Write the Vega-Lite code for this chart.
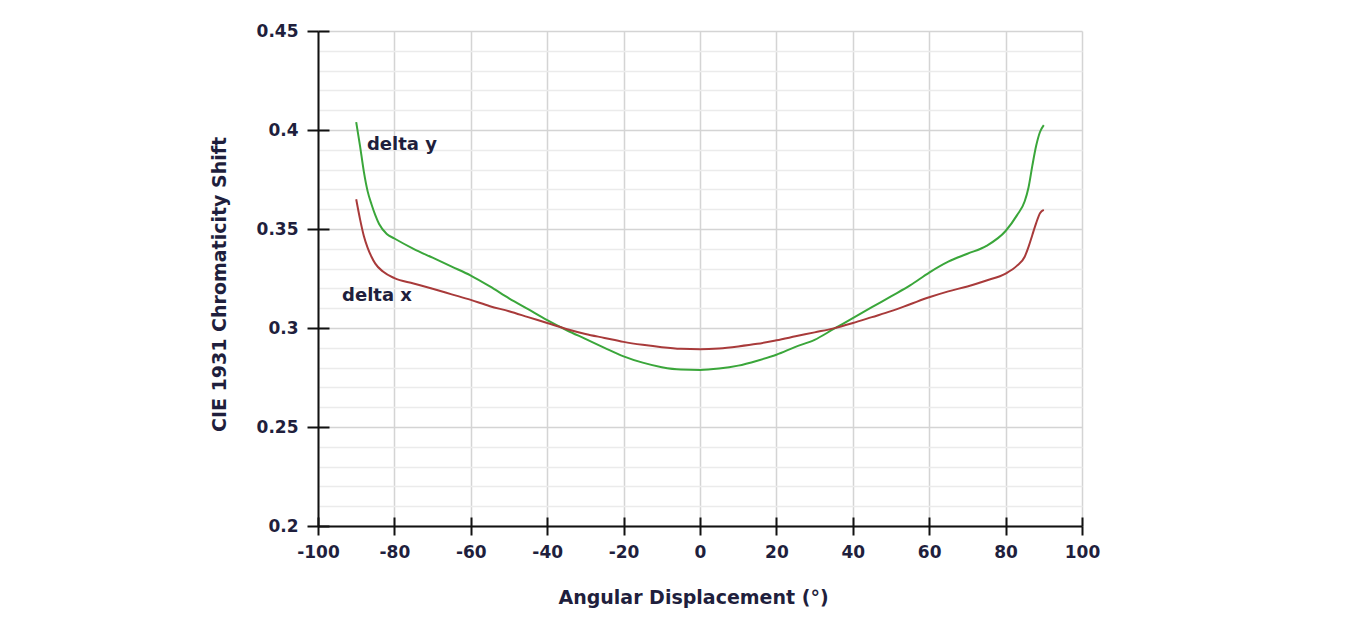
{
  "$schema": "https://vega.github.io/schema/vega-lite/v6.json",
  "width": 764,
  "height": 495,
  "autosize": {"type": "none"},
  "padding": {"left": 318, "top": 31, "right": 263, "bottom": 97},
  "background": "white",
  "config": {
    "view": {"stroke": null},
    "font": "DejaVu Sans",
    "axis": {
      "labelFont": "DejaVu Sans",
      "labelFontWeight": "bold",
      "labelFontSize": 17,
      "labelColor": "#1f1f3d",
      "titleFont": "DejaVu Sans",
      "titleFontWeight": "bold",
      "titleFontSize": 19,
      "titleColor": "#1f1f3d",
      "domainColor": "#111111",
      "domainWidth": 2,
      "tickColor": "#111111",
      "tickWidth": 2
    }
  },
  "datasets": {
    "curves": [
      {"angle": -90, "value": 0.404, "series": "delta y"},
      {"angle": -89, "value": 0.392, "series": "delta y"},
      {"angle": -88, "value": 0.379, "series": "delta y"},
      {"angle": -87, "value": 0.369, "series": "delta y"},
      {"angle": -86, "value": 0.3625, "series": "delta y"},
      {"angle": -85, "value": 0.357, "series": "delta y"},
      {"angle": -84, "value": 0.3525, "series": "delta y"},
      {"angle": -82, "value": 0.3475, "series": "delta y"},
      {"angle": -80, "value": 0.3452, "series": "delta y"},
      {"angle": -75, "value": 0.340, "series": "delta y"},
      {"angle": -70, "value": 0.3355, "series": "delta y"},
      {"angle": -65, "value": 0.331, "series": "delta y"},
      {"angle": -60, "value": 0.3265, "series": "delta y"},
      {"angle": -55, "value": 0.321, "series": "delta y"},
      {"angle": -50, "value": 0.315, "series": "delta y"},
      {"angle": -45, "value": 0.3095, "series": "delta y"},
      {"angle": -40, "value": 0.304, "series": "delta y"},
      {"angle": -35, "value": 0.299, "series": "delta y"},
      {"angle": -30, "value": 0.2945, "series": "delta y"},
      {"angle": -25, "value": 0.290, "series": "delta y"},
      {"angle": -20, "value": 0.2857, "series": "delta y"},
      {"angle": -15, "value": 0.2825, "series": "delta y"},
      {"angle": -10, "value": 0.2802, "series": "delta y"},
      {"angle": -5, "value": 0.279, "series": "delta y"},
      {"angle": 0, "value": 0.2788, "series": "delta y"},
      {"angle": 5, "value": 0.2795, "series": "delta y"},
      {"angle": 10, "value": 0.281, "series": "delta y"},
      {"angle": 15, "value": 0.2835, "series": "delta y"},
      {"angle": 20, "value": 0.2865, "series": "delta y"},
      {"angle": 25, "value": 0.2905, "series": "delta y"},
      {"angle": 30, "value": 0.294, "series": "delta y"},
      {"angle": 35, "value": 0.2995, "series": "delta y"},
      {"angle": 40, "value": 0.305, "series": "delta y"},
      {"angle": 45, "value": 0.3105, "series": "delta y"},
      {"angle": 50, "value": 0.316, "series": "delta y"},
      {"angle": 55, "value": 0.3215, "series": "delta y"},
      {"angle": 60, "value": 0.328, "series": "delta y"},
      {"angle": 65, "value": 0.3335, "series": "delta y"},
      {"angle": 70, "value": 0.3375, "series": "delta y"},
      {"angle": 75, "value": 0.3415, "series": "delta y"},
      {"angle": 80, "value": 0.349, "series": "delta y"},
      {"angle": 83, "value": 0.357, "series": "delta y"},
      {"angle": 85, "value": 0.364, "series": "delta y"},
      {"angle": 86, "value": 0.371, "series": "delta y"},
      {"angle": 87, "value": 0.382, "series": "delta y"},
      {"angle": 88, "value": 0.392, "series": "delta y"},
      {"angle": 89, "value": 0.399, "series": "delta y"},
      {"angle": 90, "value": 0.4025, "series": "delta y"},
      {"angle": -90, "value": 0.365, "series": "delta x"},
      {"angle": -89, "value": 0.355, "series": "delta x"},
      {"angle": -88, "value": 0.3465, "series": "delta x"},
      {"angle": -87, "value": 0.3405, "series": "delta x"},
      {"angle": -86, "value": 0.336, "series": "delta x"},
      {"angle": -85, "value": 0.3325, "series": "delta x"},
      {"angle": -83, "value": 0.3285, "series": "delta x"},
      {"angle": -80, "value": 0.3252, "series": "delta x"},
      {"angle": -75, "value": 0.3225, "series": "delta x"},
      {"angle": -70, "value": 0.3198, "series": "delta x"},
      {"angle": -65, "value": 0.317, "series": "delta x"},
      {"angle": -60, "value": 0.3142, "series": "delta x"},
      {"angle": -55, "value": 0.311, "series": "delta x"},
      {"angle": -50, "value": 0.3085, "series": "delta x"},
      {"angle": -45, "value": 0.3055, "series": "delta x"},
      {"angle": -40, "value": 0.3025, "series": "delta x"},
      {"angle": -35, "value": 0.2995, "series": "delta x"},
      {"angle": -30, "value": 0.297, "series": "delta x"},
      {"angle": -25, "value": 0.295, "series": "delta x"},
      {"angle": -20, "value": 0.293, "series": "delta x"},
      {"angle": -15, "value": 0.2915, "series": "delta x"},
      {"angle": -10, "value": 0.2903, "series": "delta x"},
      {"angle": -5, "value": 0.2895, "series": "delta x"},
      {"angle": 0, "value": 0.2893, "series": "delta x"},
      {"angle": 5, "value": 0.2897, "series": "delta x"},
      {"angle": 10, "value": 0.2907, "series": "delta x"},
      {"angle": 15, "value": 0.292, "series": "delta x"},
      {"angle": 20, "value": 0.2938, "series": "delta x"},
      {"angle": 25, "value": 0.2958, "series": "delta x"},
      {"angle": 30, "value": 0.2978, "series": "delta x"},
      {"angle": 35, "value": 0.2998, "series": "delta x"},
      {"angle": 40, "value": 0.3025, "series": "delta x"},
      {"angle": 45, "value": 0.3055, "series": "delta x"},
      {"angle": 50, "value": 0.3085, "series": "delta x"},
      {"angle": 55, "value": 0.312, "series": "delta x"},
      {"angle": 60, "value": 0.3155, "series": "delta x"},
      {"angle": 65, "value": 0.3185, "series": "delta x"},
      {"angle": 70, "value": 0.321, "series": "delta x"},
      {"angle": 75, "value": 0.324, "series": "delta x"},
      {"angle": 80, "value": 0.3275, "series": "delta x"},
      {"angle": 83, "value": 0.3315, "series": "delta x"},
      {"angle": 85, "value": 0.336, "series": "delta x"},
      {"angle": 86, "value": 0.341, "series": "delta x"},
      {"angle": 87, "value": 0.347, "series": "delta x"},
      {"angle": 88, "value": 0.353, "series": "delta x"},
      {"angle": 89, "value": 0.358, "series": "delta x"},
      {"angle": 90, "value": 0.3597, "series": "delta x"}
    ],
    "labels": [
      {"angle": -87.2, "value": 0.3899, "label": "delta y"},
      {"angle": -93.7, "value": 0.3134, "label": "delta x"}
    ]
  },
  "layer": [
    {
      "data": {"name": "curves"},
      "mark": {"type": "line", "strokeWidth": 2, "interpolate": "monotone"},
      "encoding": {
        "x": {
          "field": "angle", "type": "quantitative",
          "scale": {"domain": [-100, 100], "nice": false, "zero": false},
          "axis": {
            "orient": "bottom",
            "title": "Angular Displacement (°)",
            "values": [-100, -80, -60, -40, -20, 0, 20, 40, 60, 80, 100],
            "labelExpr": "datum.value < 0 ? '-' + abs(datum.value) : '' + datum.value",
            "tickSize": 9,
            "labelPadding": 9,
            "labelFlush": false,
            "labelOverlap": false,
            "grid": true,
            "gridColor": "#d4d4d4",
            "gridWidth": 1.5,
            "titlePadding": 28,
            "titleX": 375
          }
        },
        "y": {
          "field": "value", "type": "quantitative",
          "scale": {"domain": [0.2, 0.45], "nice": false, "zero": false},
          "axis": {
            "orient": "left",
            "title": "CIE 1931 Chromaticity Shift",
            "values": [0.2, 0.21, 0.22, 0.23, 0.24, 0.25, 0.26, 0.27, 0.28, 0.29, 0.3, 0.31, 0.32, 0.33, 0.34, 0.35, 0.36, 0.37, 0.38, 0.39, 0.4, 0.41, 0.42, 0.43, 0.44, 0.45],
            "labelExpr": "abs(datum.value*20 - round(datum.value*20)) < 0.001 ? format(datum.value, '.2~f') : ''",
            "tickSize": {"condition": {"test": "abs(datum.value*20 - round(datum.value*20)) < 0.001", "value": 11}, "value": 0},
            "labelPadding": 9,
            "labelFlush": false,
            "labelOverlap": false,
            "grid": true,
            "gridColor": {"condition": {"test": "abs(datum.value*20 - round(datum.value*20)) < 0.001", "value": "#d4d4d4"}, "value": "#ebebeb"},
            "gridWidth": 1.5,
            "titlePadding": 27,
            "titleY": 253
          }
        },
        "color": {
          "field": "series", "type": "nominal",
          "scale": {"domain": ["delta x", "delta y"], "range": ["#a83a3a", "#3aa63a"]},
          "legend": null
        }
      }
    },
    {
      "data": {"name": "labels"},
      "mark": {"type": "text", "align": "left", "baseline": "alphabetic", "font": "DejaVu Sans", "fontWeight": "bold", "fontSize": 18, "color": "#1f1f3d"},
      "encoding": {
        "x": {
          "field": "angle", "type": "quantitative",
          "axis": {
            "orient": "bottom",
            "title": null,
            "values": [-100, -80, -60, -40, -20, 0, 20, 40, 60, 80, 100],
            "tickSize": 9,
            "offset": -9,
            "labels": false,
            "domain": false,
            "grid": false
          }
        },
        "y": {
          "field": "value", "type": "quantitative",
          "axis": {
            "orient": "left",
            "title": null,
            "values": [0.2, 0.25, 0.3, 0.35, 0.4, 0.45],
            "tickSize": 11,
            "offset": -11,
            "labels": false,
            "domain": false,
            "grid": false
          }
        },
        "text": {"field": "label", "type": "nominal"}
      }
    }
  ],
  "resolve": {"axis": {"x": "independent", "y": "independent"}}
}
